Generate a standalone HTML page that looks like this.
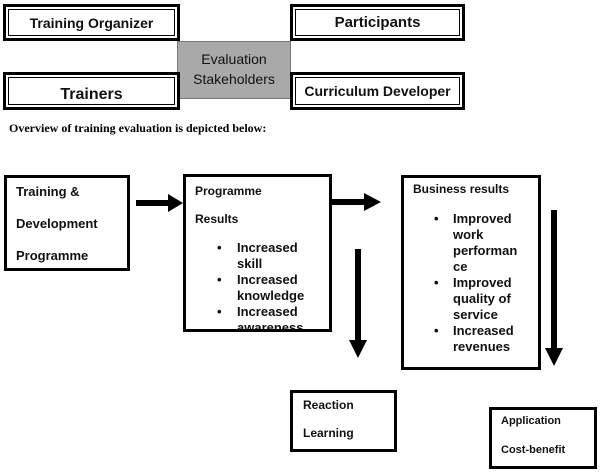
<!DOCTYPE html>
<html><head><style>
body{margin:0;width:600px;height:473px;position:relative;background:#fff;font-family:"Liberation Sans",sans-serif;overflow:hidden}
.a{position:absolute;box-sizing:border-box}
.tb{border:3px solid #000;outline:1px solid #000;outline-offset:-6px;font-weight:bold;color:#111;display:flex;align-items:center;justify-content:center}
.b{border:3px solid #000;font-weight:bold;color:#111}
.l{position:absolute;font-size:13px;line-height:16px}
.d{position:absolute;font-size:13px;line-height:16px}
</style></head><body>
<div class="a" style="left:177px;top:41px;width:114px;height:58px;background:#a9a9a9;border:1px solid #777;text-align:center;font-size:14px;line-height:20px;padding-top:7px;color:#111">Evaluation<br>Stakeholders</div>
<div class="a tb" style="left:3px;top:4px;width:177px;height:37px;font-size:14px;background:#fff">Training Organizer</div>
<div class="a tb" style="left:290px;top:4px;width:175px;height:37px;font-size:15px;background:#fff">Participants</div>
<div class="a tb" style="left:3px;top:72px;width:177px;height:38px;font-size:16px;background:#fff;padding-top:8px">Trainers</div>
<div class="a tb" style="left:290px;top:72px;width:175px;height:38px;font-size:14px;background:#fff">Curriculum Developer</div>
<div class="a" style="left:9px;top:121px;font-family:'Liberation Serif',serif;font-weight:bold;font-size:12px">Overview of training evaluation is depicted below:</div>

<div class="a b" style="left:4px;top:175px;width:126px;height:96px;font-size:13px;padding:0 0 0 9px;line-height:32px"><div style="margin-top:-2px">Training &amp;<br>Development<br>Programme</div></div>
<div class="a b" style="left:183px;top:174px;width:149px;height:158px;font-size:12px;overflow:hidden">
<div class="a" style="left:9px;top:0;line-height:28px">Programme<br>Results</div>
<div class="d" style="left:31px;top:63px">•<br><br>•<br><br>•</div>
<div class="l" style="left:51px;top:63px">Increased<br>skill<br>Increased<br>knowledge<br>Increased<br>awareness</div></div>
<div class="a b" style="left:401px;top:175px;width:140px;height:195px;font-size:12px">
<div class="a" style="left:9px;top:4px">Business results</div>
<div class="d" style="left:30px;top:33px">•<br><br><br><br>•<br><br><br>•</div>
<div class="l" style="left:49px;top:33px">Improved<br>work<br>performan<br>ce<br>Improved<br>quality of<br>service<br>Increased<br>revenues</div></div>
<div class="a b" style="left:290px;top:390px;width:107px;height:62px;font-size:12px;padding:0 0 0 10px;line-height:28px"><div style="margin-top:-2px">Reaction<br>Learning</div></div>
<div class="a b" style="left:489px;top:407px;width:108px;height:62px;font-size:11px;padding:0 0 0 9px;line-height:29px"><div style="margin-top:-3px">Application<br>Cost-benefit</div></div>

<svg class="a" style="left:0;top:0" width="600" height="473">
<g fill="#000">
<rect x="136" y="200" width="34" height="6"/><polygon points="168,194 183,203 168,212"/>
<rect x="332" y="199" width="34" height="6"/><polygon points="364,193 381,202 364,211"/>
<rect x="355" y="249" width="6" height="92"/><polygon points="349,340 367,340 358,358"/>
<rect x="551" y="210" width="6" height="140"/><polygon points="545,348 563,348 554,366"/>
</g></svg>
</body></html>
